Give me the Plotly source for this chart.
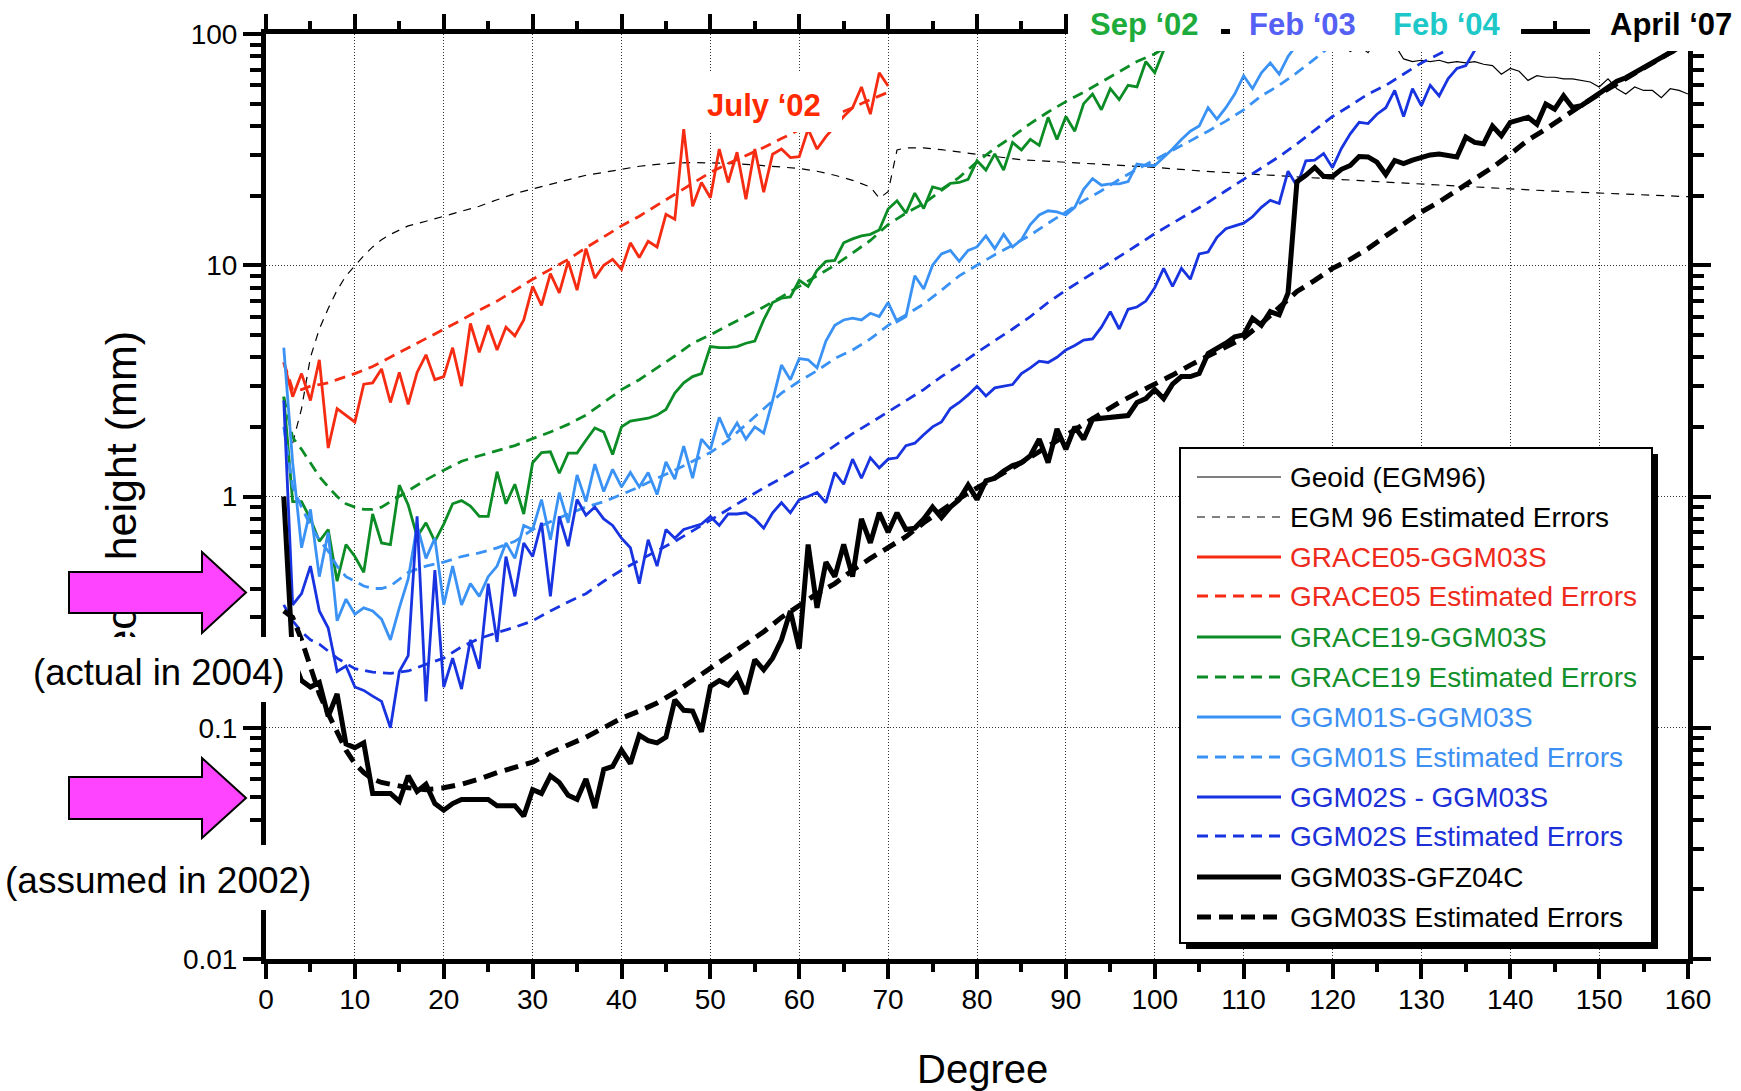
import plotly.graph_objects as go

# ---------------- data ----------------
geoid_deg = list(range(119, 161))
geoid_val = [115, 104, 90, 84, 89, 83, 95, 104, 90, 78,
             76, 77, 76, 77, 75, 76, 75, 76, 74, 73,
             67, 71, 69, 63, 66, 65, 65, 64, 64, 63,
             62, 59, 64, 58, 55, 59, 57, 57, 53, 58,
             57, 55]

egm_err_deg = [3, 4, 5, 6, 7, 8, 9, 10, 11, 12, 13, 14, 15, 16,
               18, 20, 22, 24, 26, 28, 30, 32, 34, 36, 38, 40, 42, 44, 46, 48,
               50, 52, 54, 56, 58, 60, 62, 64, 66, 68, 69, 70, 71, 72,
               74, 76, 78, 80, 85, 90, 95, 100, 105, 110, 115, 120, 125, 130,
               135, 140, 145, 150, 155, 160]
egm_err_val = [1.7, 2.4, 4.0, 5.3, 6.5, 7.8, 9.0, 10.0, 11.0, 12.0, 12.9, 13.6, 14.2, 14.8,
               15.5, 16.3, 17.2, 18.0, 19.2, 20.4, 21.4, 22.4, 23.5, 24.5, 25.2, 26.0, 26.8, 27.3, 27.7, 27.8,
               27.8, 27.6, 27.3, 27.0, 26.6, 26.2, 25.5, 24.5, 23.3, 21.8, 19.5, 20.8, 31.5, 32.2,
               32.2, 31.6, 30.8, 30.2, 28.6, 27.9, 27.2, 26.5, 25.6, 24.9, 24.1, 23.6, 23.0, 22.4,
               21.9, 21.4, 20.9, 20.5, 20.1, 19.8]

grace05_deg = list(range(2, 71))
grace05_val = [3.8, 2.7, 3.4, 2.6, 3.9, 1.62, 2.4, 2.25, 2.1, 3.06,
               3.1, 3.56, 2.55, 3.44, 2.5, 3.44, 4.1, 3.2, 3.3, 4.4,
               3.0, 5.6, 4.2, 5.5, 4.3, 5.4, 4.95, 5.8, 8.1, 6.7,
               9.2, 7.6, 10.4, 7.8, 11.8, 8.8, 10.0, 10.6, 9.6, 12.5,
               10.8, 12.7, 12.0, 16.6, 15.8, 38.8, 18.0, 22.8, 19.6, 31.8,
               22.8, 30.8, 19.3, 31.8, 20.7, 30.2, 31.8, 29.2, 29.5, 38.8,
               31.8, 36, 40, 44, 48, 59, 45, 68, 59.6]

grace05_err_deg = [2, 3, 4, 5, 6, 7, 8] + list(range(10, 71, 2))
grace05_err_val = [3.8, 2.9, 2.9, 3.0, 3.05, 3.1, 3.2,
                   3.4, 3.65, 4.0, 4.4, 4.8, 5.3, 5.8, 6.4, 7.0, 7.8, 8.7, 9.6, 10.6,
                   11.9, 13.3, 14.8, 16.3, 18.2, 20.3, 22.6, 25.2, 27.5, 29.8, 32.3,
                   35.3, 38.5, 41.5, 44.5, 48, 52, 56]

grace19_deg = list(range(2, 104))
grace19_val = [2.7, 0.95, 0.95, 0.8, 0.64, 0.72, 0.43, 0.62, 0.55, 0.47,
               0.84, 0.63, 0.62, 1.12, 0.92, 0.67, 0.77, 0.64, 0.76, 0.93,
               0.96, 0.91, 0.82, 0.82, 1.28, 0.93, 1.13, 0.84, 1.4, 1.55,
               1.56, 1.26, 1.54, 1.54, 1.75, 1.98, 1.9, 1.52, 2.0, 2.12,
               2.15, 2.18, 2.25, 2.38, 2.8, 3.1, 3.3, 3.4, 4.45, 4.4,
               4.4, 4.45, 4.6, 4.7, 5.8, 6.9, 7.2, 7.3, 8.6, 8.1,
               9.5, 10.4, 10.5, 12.5, 13.0, 13.4, 13.6, 14.2, 17.5, 19.0,
               16.8, 20.5, 17.6, 21.8, 21.3, 22.6, 22.8, 23.5, 28.3, 25.8,
               30.3, 25.8, 34, 31.5, 35, 33, 43.6, 35, 44, 38,
               50, 55, 47, 58, 52, 60, 59, 76, 68, 85,
               95, 110]

grace19_err_deg = [2, 3, 4, 5, 6, 7, 8, 9, 10, 11, 12, 13, 14, 15, 16] + list(range(18, 105, 2))
grace19_err_val = [2.7, 1.8, 1.6, 1.4, 1.22, 1.1, 1.0, 0.93, 0.9, 0.88, 0.88, 0.9, 0.95, 1.0, 1.06,
                   1.18, 1.3, 1.42, 1.5, 1.58, 1.66, 1.78, 1.9, 2.05, 2.25,
                   2.55, 2.9, 3.2, 3.6, 4.05, 4.6, 5.0, 5.5, 6.0, 6.6,
                   7.3, 8.1, 9.0, 10.0, 11.3, 12.8, 15.0, 16.8, 18.5, 21.0,
                   24, 28, 32, 36, 41, 46, 51, 56, 62, 69,
                   76, 82, 92, 103]

ggm01_deg = list(range(2, 118))
ggm01_val = [4.4, 1.4, 0.6, 0.88, 0.45, 0.7, 0.29, 0.36, 0.31, 0.33,
             0.32, 0.295, 0.24, 0.33, 0.44, 0.75, 0.54, 0.66, 0.34, 0.5,
             0.34, 0.42, 0.37, 0.45, 0.5, 0.63, 0.54, 0.75, 0.72, 0.97,
             0.65, 1.04, 0.77, 1.24, 0.95, 1.38, 1.05, 1.31, 1.1, 1.27,
             1.1, 1.27, 1.02, 1.41, 1.19, 1.65, 1.2, 1.77, 1.6, 2.2,
             1.8, 2.08, 1.77, 2.0, 1.88, 2.6, 3.7, 3.2, 3.95, 3.9,
             3.6, 4.7, 5.5, 5.8, 5.9, 5.8, 6.2, 6.0, 6.9, 5.7,
             6.0, 9.0, 7.9, 10.0, 11.2, 11.6, 10.4, 11.6, 12.0, 13.4,
             11.8, 13.6, 12.0, 12.9, 15.0, 16.5, 17.2, 17.0, 16.5, 17.8,
             21.3, 23.7, 22.2, 22.5, 22.5, 23.0, 27.4, 27.0, 27.0, 29.3,
             31.8, 35, 38, 40, 48, 42.8, 48, 55, 66, 58,
             68, 75, 67, 80, 90, 105]

ggm01_err_deg = [2, 3, 4, 5, 6, 7, 8, 9, 10, 11, 12, 13, 14, 15, 16] + list(range(18, 123, 2))
ggm01_err_val = [2.0, 1.1, 0.9, 0.75, 0.65, 0.58, 0.5, 0.45, 0.43, 0.41, 0.4, 0.4, 0.41, 0.44, 0.47,
                 0.5, 0.52, 0.55, 0.57, 0.6, 0.64, 0.72, 0.78, 0.84, 0.9,
                 0.95, 1.02, 1.1, 1.2, 1.3, 1.42, 1.55, 1.75, 2.05, 2.4,
                 2.8, 3.15, 3.5, 3.95, 4.3, 4.8, 5.5, 6.1, 6.8, 7.8,
                 9.0, 10.0, 11.1, 12.2, 13.5, 15.2, 17.0, 19.0, 21.0, 23.5,
                 26, 28.5, 31.5, 34.5, 38, 42, 47, 54, 60, 68,
                 78, 90, 102]

ggm02_deg = list(range(2, 139))
ggm02_val = [2.6, 0.34, 0.38, 0.5, 0.32, 0.27, 0.175, 0.185, 0.15, 0.145,
             0.137, 0.13, 0.1, 0.175, 0.205, 0.82, 0.13, 0.48, 0.15, 0.2,
             0.147, 0.24, 0.18, 0.42, 0.235, 0.55, 0.37, 0.63, 0.55, 0.77,
             0.37, 0.82, 0.61, 0.97, 0.83, 0.9, 0.8, 0.75, 0.66, 0.6,
             0.42, 0.65, 0.5, 0.72, 0.66, 0.72, 0.74, 0.76, 0.82, 0.75,
             0.84, 0.84, 0.85, 0.8, 0.73, 0.85, 0.94, 0.85, 0.97, 1.0,
             1.04, 0.94, 1.27, 1.13, 1.45, 1.2, 1.47, 1.33, 1.45, 1.47,
             1.66, 1.7, 1.85, 2.0, 2.1, 2.4, 2.55, 2.75, 3.0, 2.72,
             2.95, 3.0, 3.05, 3.4, 3.6, 3.85, 3.8, 4.0, 4.3, 4.5,
             4.75, 4.8, 5.4, 6.3, 5.3, 6.45, 6.6, 7.0, 8.0, 9.7,
             8.1, 9.7, 8.7, 11.2, 11.4, 13.2, 14.4, 14.8, 15.2, 16.2,
             17.8, 19.1, 18.5, 25.5, 22, 28.3, 28.5, 30.4, 26.4, 32,
             37, 41.5, 41, 45, 48, 57, 44, 58, 49, 60,
             54, 64, 71, 73, 85, 100, 115]

ggm02_err_deg = [2, 3, 4, 5, 6] + list(range(8, 137, 2)) + [137]
ggm02_err_val = [0.34, 0.29, 0.26, 0.24, 0.23,
                 0.2, 0.18, 0.174, 0.172, 0.176, 0.188, 0.2, 0.224, 0.243, 0.258,
                 0.272, 0.29, 0.32, 0.35, 0.38, 0.43, 0.48, 0.53, 0.58, 0.64,
                 0.71, 0.79, 0.88, 0.98, 1.09, 1.2, 1.33, 1.47, 1.66, 1.87,
                 2.08, 2.32, 2.6, 2.9, 3.3, 3.7, 4.2, 4.7, 5.3, 6.0,
                 6.9, 7.8, 8.7, 9.7, 10.9, 12.2, 13.7, 15.2, 16.8, 18.7,
                 21, 23.5, 26.5, 29.5, 33.5, 38.5, 44, 49, 55, 60,
                 67, 75, 82, 90, 98, 103]

ggm03_deg = list(range(2, 161))
ggm03_val = [1.0, 0.2, 0.16, 0.15, 0.157, 0.112, 0.14, 0.085, 0.082, 0.086,
             0.052, 0.052, 0.052, 0.048, 0.062, 0.053, 0.057, 0.047, 0.044, 0.047,
             0.049, 0.049, 0.049, 0.049, 0.046, 0.046, 0.046, 0.0415, 0.054, 0.052,
             0.062, 0.058, 0.051, 0.049, 0.06, 0.045, 0.066, 0.068, 0.08, 0.07,
             0.093, 0.088, 0.086, 0.091, 0.132, 0.119, 0.118, 0.096, 0.151, 0.16,
             0.153, 0.17, 0.14, 0.197, 0.178, 0.2, 0.24, 0.32, 0.22, 0.62,
             0.33, 0.52, 0.45, 0.62, 0.45, 0.8, 0.63, 0.85, 0.7, 0.85,
             0.72, 0.73, 0.8, 0.9, 0.81, 0.9, 0.97, 1.12, 0.97, 1.17,
             1.2, 1.29, 1.36, 1.4, 1.5, 1.77, 1.4, 1.96, 1.6, 2.0,
             1.77, 2.16, 2.18, 2.2, 2.22, 2.24, 2.55, 2.65, 2.9, 2.65,
             3.06, 3.3, 3.3, 3.4, 4.15, 4.35, 4.6, 4.9, 5.0, 5.9,
             5.5, 6.3, 6.1, 7.6, 23, 24.5, 26.5, 24.2, 24.2, 26,
             27, 29.5, 29.4, 27.9, 24.7, 28.4, 27.5, 28.5, 29.4, 30,
             30.3, 30, 29.4, 35.8, 34, 33.5, 40, 36.3, 41.5, 42.5,
             43.6, 40.7, 49.8, 47.3, 54, 48.1, 49, 52, 55.5, 59,
             62.5, 64.7, 68, 71.5, 75, 79, 83, 87, 92]

ggm03_err_deg = [2, 3, 4, 5, 6, 7, 8, 9, 10, 11, 12, 13, 14, 15, 16] + list(range(18, 161, 2))
ggm03_err_val = [0.32, 0.3, 0.24, 0.18, 0.14, 0.115, 0.095, 0.08, 0.07, 0.064, 0.06, 0.058, 0.057, 0.056, 0.055,
                 0.054, 0.055, 0.057, 0.06, 0.064, 0.067, 0.071, 0.078, 0.084, 0.091,
                 0.1, 0.11, 0.118, 0.128, 0.142, 0.16, 0.18, 0.205, 0.23, 0.26,
                 0.3, 0.34, 0.38, 0.42, 0.48, 0.54, 0.6, 0.67, 0.77, 0.87,
                 0.98, 1.09, 1.2, 1.33, 1.48, 1.65, 1.85, 2.05, 2.3, 2.55,
                 2.8, 3.05, 3.35, 3.7, 4.05, 4.45, 4.85, 5.6, 6.6, 7.7,
                 8.6, 9.7, 10.6, 11.8, 13.4, 15.2, 17.0, 18.8, 21, 23.5,
                 26.5, 30.2, 34.8, 38.8, 44, 49.2, 55, 61, 68, 75,
                 83, 91]

series_names = ["Geoid (EGM96)", "EGM 96 Estimated Errors",
                "GRACE05-GGM03S", "GRACE05 Estimated Errors",
                "GRACE19-GGM03S", "GRACE19 Estimated Errors",
                "GGM01S-GGM03S", "GGM01S Estimated Errors",
                "GGM02S - GGM03S", "GGM02S Estimated Errors",
                "GGM03S-GFZ04C", "GGM03S Estimated Errors"]

x_ticks = list(range(0, 161, 10))
y_ticks = [0.01, 0.1, 1, 10, 100]
y_tick_text = ["0.01", "0.1", "1", "10", "100"]

# ---------------- styles ----------------
RED, GREEN, LBLUE, BLUE, BLACK = "#f52b12", "#0b8c24", "#3a92f5", "#1833e0", "#000000"
TXT_RED, TXT_GREEN, TXT_LBLUE, TXT_BLUE = "#ee2a1c", "#13902c", "#3d8ff2", "#1c30d8"
CDASH, KDASH, TDASH = "11px,7px", "14px,8px", "8px,7px"

styles = [
    dict(color=BLACK, width=1.2, dash="solid"),
    dict(color=BLACK, width=1.2, dash=TDASH),
    dict(color=RED, width=2.8, dash="solid"),
    dict(color=RED, width=2.8, dash=CDASH),
    dict(color=GREEN, width=2.8, dash="solid"),
    dict(color=GREEN, width=2.8, dash=CDASH),
    dict(color=LBLUE, width=2.8, dash="solid"),
    dict(color=LBLUE, width=2.8, dash=CDASH),
    dict(color=BLUE, width=2.8, dash="solid"),
    dict(color=BLUE, width=2.8, dash=CDASH),
    dict(color=BLACK, width=5, dash="solid"),
    dict(color=BLACK, width=5, dash=KDASH),
]
text_colors = [BLACK, BLACK, TXT_RED, TXT_RED, TXT_GREEN, TXT_GREEN,
               TXT_LBLUE, TXT_LBLUE, TXT_BLUE, TXT_BLUE, BLACK, BLACK]

data = [(geoid_deg, geoid_val), (egm_err_deg, egm_err_val),
        (grace05_deg, grace05_val), (grace05_err_deg, grace05_err_val),
        (grace19_deg, grace19_val), (grace19_err_deg, grace19_err_val),
        (ggm01_deg, ggm01_val), (ggm01_err_deg, ggm01_err_val),
        (ggm02_deg, ggm02_val), (ggm02_err_deg, ggm02_err_val),
        (ggm03_deg, ggm03_val), (ggm03_err_deg, ggm03_err_val)]

fig = go.Figure()
for name, (xs, ys), st in zip(series_names, data, styles):
    fig.add_trace(go.Scatter(x=xs, y=ys, mode="lines", name=name, line=st,
                             showlegend=False, hoverinfo="skip"))

# ---------------- geometry helpers (pixel -> paper) ----------------
W, H = 1741, 1091
L, R, T, B = 266, 53, 34, 132
PW, PH = W - L - R, H - T - B


def px(x):
    return (x - L) / PW


def py(y):
    return (H - B - y) / PH


FONT = "Liberation Sans, Arial, Helvetica, sans-serif"
shapes = []
annotations = []

# y-axis title as a shape label (so that arrows / boxes can cover it)
shapes.append(dict(type="rect", xref="paper", yref="paper",
                   x0=px(94), x1=px(140), y0=py(688), y1=py(330),
                   line=dict(width=0), fillcolor="rgba(0,0,0,0)",
                   label=dict(text="Geoid height (mm)", textangle=-90,
                              textposition="middle center",
                              font=dict(family=FONT, size=43, color="black"))))


def white_box(x0, y0, x1, y1):
    shapes.append(dict(type="rect", xref="paper", yref="paper",
                       x0=px(x0), x1=px(x1), y0=py(y1), y1=py(y0),
                       line=dict(width=0), fillcolor="white", layer="above"))


white_box(0, 637, 300, 702)      # (actual in 2004)
white_box(0, 845, 318, 910)      # (assumed in 2002)
white_box(688, 72, 842, 132)     # July '02
white_box(1068, 0, 1221, 51)     # Sep '02
white_box(1230, 0, 1521, 51)     # Feb '03 / Feb '04
white_box(1590, 0, 1741, 51)     # April '07


def arrow(ytop, ybot, htop, hbot):
    ymid = (ytop + ybot) / 2
    pts = [(69, ytop), (202, ytop), (202, htop), (246, ymid), (202, hbot), (202, ybot), (69, ybot)]
    path = "M " + " L ".join(f"{px(a):.5f},{py(b):.5f}" for a, b in pts) + " Z"
    shapes.append(dict(type="path", xref="paper", yref="paper", path=path,
                       fillcolor="#ff44ff", line=dict(color="black", width=2), layer="above"))


arrow(572, 613, 552, 633)
arrow(777, 819, 758, 838)

# manual legend box with shadow
shapes.append(dict(type="rect", xref="paper", yref="paper",
                   x0=px(1186), x1=px(1658), y0=py(949), y1=py(454),
                   line=dict(width=0), fillcolor="black", layer="above"))
shapes.append(dict(type="rect", xref="paper", yref="paper",
                   x0=px(1180), x1=px(1652), y0=py(943), y1=py(448),
                   line=dict(color="black", width=2), fillcolor="white", layer="above"))
row_y = [477, 517, 557, 596, 637, 677, 717, 757, 797, 836, 877, 917]
for name, st, tc, ry in zip(series_names, styles, text_colors, row_y):
    shapes.append(dict(type="line", xref="paper", yref="paper",
                       x0=px(1197), x1=px(1281), y0=py(ry), y1=py(ry),
                       line=dict(color=st["color"], width=st["width"], dash=st["dash"]),
                       layer="above"))
    annotations.append(dict(xref="paper", yref="paper", x=px(1288), y=py(ry),
                            text=name, showarrow=False, xanchor="left", yanchor="middle",
                            font=dict(family=FONT, size=28, color=tc)))

# text labels
annotations += [
    dict(x=px(159), y=py(672), text="(actual in 2004)", font=dict(family=FONT, size=36.5, color="black")),
    dict(x=px(158), y=py(880), text="(assumed in 2002)", font=dict(family=FONT, size=37, color="black")),
    dict(x=px(764), y=py(105), text="<b>July \u201802</b>", font=dict(family=FONT, size=31, color="#ff2a00")),
    dict(x=px(1144), y=py(24), text="<b>Sep \u201802</b>", font=dict(family=FONT, size=31, color="#1dab3b")),
    dict(x=px(1302), y=py(24), text="<b>Feb \u201803</b>", font=dict(family=FONT, size=31, color="#5560f5")),
    dict(x=px(1447), y=py(24), text="<b>Feb \u201804</b>", font=dict(family=FONT, size=31, color="#1fc8c8")),
    dict(x=px(1671), y=py(24), text="<b>April \u201807</b>", font=dict(family=FONT, size=31, color="black")),
    dict(x=px(983), y=py(1069), text="Degree", font=dict(family=FONT, size=40, color="black")),
]
for a in annotations[-8:]:
    a.update(xref="paper", yref="paper", showarrow=False, xanchor="center", yanchor="middle")

minor_y = [m * 10.0 ** e for e in range(-2, 2) for m in range(2, 10)]

fig.update_layout(
    width=W, height=H, autosize=False,
    margin=dict(l=L, r=R, t=T, b=B, pad=0),
    paper_bgcolor="white", plot_bgcolor="white",
    showlegend=False,
    font=dict(family=FONT, color="black"),
    shapes=shapes, annotations=annotations,
    xaxis=dict(range=[0, 160], tickmode="array", tickvals=x_ticks,
               ticks="outside", ticklen=15, tickwidth=4, tickcolor="black",
               ticklabelstandoff=-4,
               showline=True, linewidth=5, linecolor="black", mirror="ticks",
               showgrid=True, gridcolor="#333333", gridwidth=1, griddash="1px,2px",
               zeroline=False, tickfont=dict(family=FONT, size=28, color="black"),
               minor=dict(tickmode="array", tickvals=list(range(5, 160, 10)), ticks="outside",
                          ticklen=8, tickwidth=4, tickcolor="black", showgrid=False)),
    yaxis=dict(type="log", range=[-2, 2], tickmode="array", tickvals=y_ticks, ticktext=y_tick_text,
               ticks="outside", ticklen=18, tickwidth=4, tickcolor="black",
               showline=True, linewidth=5, linecolor="black", mirror="ticks",
               showgrid=True, gridcolor="#333333", gridwidth=1, griddash="1px,2px",
               zeroline=False, tickfont=dict(family=FONT, size=28, color="black"),
               minor=dict(tickmode="array", tickvals=minor_y, ticks="outside",
                          ticklen=11, tickwidth=4, tickcolor="black", showgrid=False)),
)

fig.write_html("out.html")
